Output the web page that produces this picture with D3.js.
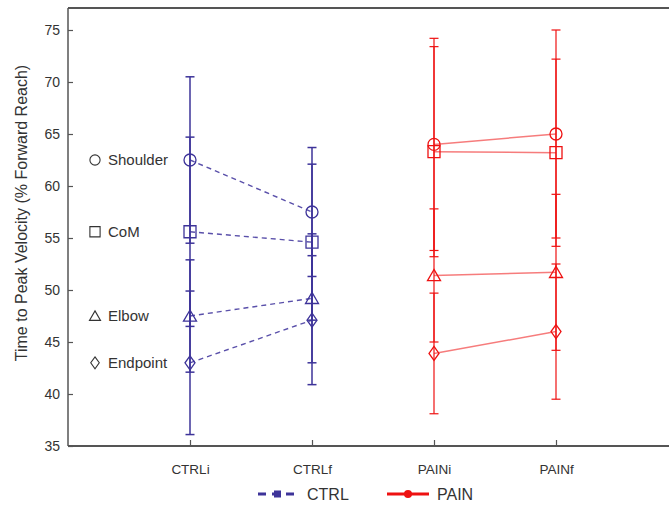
<!DOCTYPE html>
<html>
<head>
<meta charset="utf-8">
<script src="https://cdn.jsdelivr.net/npm/d3@7"></script>
<style>
  html, body { margin: 0; padding: 0; background: #fff; }
  svg { display: block; font-family: "Liberation Sans", Arial, Helvetica, sans-serif; }
</style>
</head>
<body>
<svg id="chart" width="669" height="506"></svg>
<script>
// Time to peak velocity per body segment, control vs. pain groups (mean ± SD)
const groups = ["CTRLi", "CTRLf", "PAINi", "PAINf"];
const segments = ["Shoulder", "CoM", "Elbow", "Endpoint"];

const ctrlInitialMean = [62.5, 55.6, 47.5, 43.0];
const ctrlInitialSD   = [8.0, 9.1, 5.4, 6.9];
const ctrlFinalMean   = [57.5, 54.6, 49.2, 47.1];
const ctrlFinalSD     = [6.2, 7.5, 6.2, 6.2];

const painInitialMean = [64.0, 63.3, 51.4, 43.9];
const painInitialSD   = [10.2, 10.1, 6.4, 5.8];
const painFinalMean   = [65.0, 63.2, 51.7, 46.0];
const painFinalSD     = [10.0, 9.0, 7.5, 6.5];

const yTicks = [35, 40, 45, 50, 55, 60, 65, 70, 75];

const CTRL_COLOR = "#3d3399";
const PAIN_COLOR = "#ee1111";
const AXIS_COLOR = "#555";
const TEXT_COLOR = "#333";

const svg = d3.select("#chart");

const frameLeft = 68, frameTop = 8, frameBottom = 446, frameRight = 678;

// group index 1..4 across a 0..5 domain
const x = d3.scaleLinear().domain([0, groups.length + 1]).range([frameLeft, frameRight]);
const y = d3.scaleLinear().domain([35, 75]).range([frameBottom, 30]);

// Open marker shapes for each segment
const markerPath = {
  Shoulder: () => d3.symbol(d3.symbolCircle, Math.PI * 36)(),
  CoM: () => "M-6,-6H6V6H-6Z",
  Elbow: () => "M0,-6L6.5,5.2H-6.5Z",
  Endpoint: () => "M0,-7L5,0L0,7L-5,0Z"
};

// Frame: left, top and bottom rules
svg.append("line").attr("x1", frameLeft).attr("x2", 669).attr("y1", frameTop).attr("y2", frameTop)
  .attr("stroke", AXIS_COLOR).attr("stroke-width", 2);
svg.append("line").attr("x1", frameLeft).attr("x2", 669).attr("y1", frameBottom).attr("y2", frameBottom)
  .attr("stroke", AXIS_COLOR).attr("stroke-width", 2);
svg.append("line").attr("x1", frameLeft).attr("x2", frameLeft).attr("y1", frameTop).attr("y2", frameBottom)
  .attr("stroke", AXIS_COLOR).attr("stroke-width", 1.5);

// Y axis ticks (inward) and labels
const yAxis = d3.axisLeft(y).tickValues(yTicks).tickSizeInner(-5).tickSizeOuter(0).tickPadding(8);
const yg = svg.append("g").attr("transform", `translate(${frameLeft},0)`).call(yAxis);
yg.select(".domain").remove();
yg.selectAll(".tick line").attr("stroke", AXIS_COLOR).attr("stroke-width", 1.2);
yg.selectAll(".tick text").attr("fill", TEXT_COLOR).attr("font-size", 14)
  .attr("font-family", "Liberation Sans, Arial, sans-serif");

// X axis ticks (inward) and labels
const xAxis = d3.axisBottom(x).tickValues(groups.map((g, i) => i + 1))
  .tickFormat((d) => groups[d - 1]).tickSizeInner(-6).tickSizeOuter(0).tickPadding(18);
const xg = svg.append("g").attr("transform", `translate(0,${frameBottom})`).call(xAxis);
xg.select(".domain").remove();
xg.selectAll(".tick line").attr("stroke", AXIS_COLOR).attr("stroke-width", 1.2);
xg.selectAll(".tick text").attr("fill", TEXT_COLOR).attr("font-size", 13.5)
  .attr("font-family", "Liberation Sans, Arial, sans-serif");

// Y axis title
svg.append("text")
  .attr("transform", `translate(27,${213}) rotate(-90)`)
  .attr("text-anchor", "middle")
  .attr("fill", TEXT_COLOR)
  .attr("font-size", 16)
  .text("Time to Peak Velocity (% Forward Reach)");

// Draw one group's error bars
function drawGroup(gi, means, sds, color, width) {
  const cx = x(gi + 1);
  const g = svg.append("g");
  segments.forEach((s, k) => {
    const lo = means[k] - sds[k], hi = means[k] + sds[k];
    g.append("line").attr("x1", cx).attr("x2", cx).attr("y1", y(lo)).attr("y2", y(hi))
      .attr("stroke", color).attr("stroke-width", width);
    [lo, hi].forEach((v) => {
      g.append("line").attr("x1", cx - 4.5).attr("x2", cx + 4.5).attr("y1", y(v)).attr("y2", y(v))
        .attr("stroke", color).attr("stroke-width", width);
    });
  });
  return g;
}

function drawMarkers(gi, means, color) {
  const cx = x(gi + 1);
  segments.forEach((s, k) => {
    svg.append("path").attr("d", markerPath[s]())
      .attr("transform", `translate(${cx},${y(means[k])})`)
      .attr("fill", "none").attr("stroke", color).attr("stroke-width", 1.3);
  });
}

// Connecting lines between initial and final sessions
function drawLinks(gA, gB, meansA, meansB, color, dashed, opacity) {
  segments.forEach((s, k) => {
    svg.append("line")
      .attr("x1", x(gA + 1)).attr("y1", y(meansA[k]))
      .attr("x2", x(gB + 1)).attr("y2", y(meansB[k]))
      .attr("stroke", color).attr("stroke-width", dashed ? 1.4 : 1.5)
      .attr("stroke-opacity", opacity)
      .attr("stroke-dasharray", dashed ? "5,4" : null);
  });
}

drawLinks(0, 1, ctrlInitialMean, ctrlFinalMean, "#5a50aa", true, 1);
drawLinks(2, 3, painInitialMean, painFinalMean, PAIN_COLOR, false, 0.55);

drawGroup(0, ctrlInitialMean, ctrlInitialSD, CTRL_COLOR, 1.5);
drawGroup(1, ctrlFinalMean, ctrlFinalSD, CTRL_COLOR, 1.5);
drawGroup(2, painInitialMean, painInitialSD, PAIN_COLOR, 1.2);
drawGroup(3, painFinalMean, painFinalSD, PAIN_COLOR, 1.2);

drawMarkers(0, ctrlInitialMean, CTRL_COLOR);
drawMarkers(1, ctrlFinalMean, CTRL_COLOR);
drawMarkers(2, painInitialMean, PAIN_COLOR);
drawMarkers(3, painFinalMean, PAIN_COLOR);

// Segment key, placed beside the CTRLi values
segments.forEach((s, k) => {
  const yy = y(ctrlInitialMean[k]);
  svg.append("path").attr("d", markerPath[s]())
    .attr("transform", `translate(95,${yy}) scale(0.85)`)
    .attr("fill", "none").attr("stroke", "#333").attr("stroke-width", 1.3);
  svg.append("text").attr("x", 108).attr("y", yy).attr("dy", "0.35em")
    .attr("fill", TEXT_COLOR).attr("font-size", 15).text(s);
});

// Group legend
const lg = svg.append("g").attr("transform", "translate(0,494)");
lg.append("line").attr("x1", 258).attr("x2", 298).attr("y1", 0).attr("y2", 0)
  .attr("stroke", CTRL_COLOR).attr("stroke-width", 3).attr("stroke-dasharray", "8,6");
lg.append("rect").attr("x", 274).attr("y", -3.5).attr("width", 7).attr("height", 7).attr("fill", CTRL_COLOR);
lg.append("text").attr("x", 307).attr("y", 0).attr("dy", "0.35em").attr("fill", TEXT_COLOR)
  .attr("font-size", 16).text("CTRL");
lg.append("line").attr("x1", 387).attr("x2", 429).attr("y1", 0).attr("y2", 0)
  .attr("stroke", PAIN_COLOR).attr("stroke-width", 3);
lg.append("circle").attr("cx", 408).attr("cy", 0).attr("r", 4).attr("fill", PAIN_COLOR);
lg.append("text").attr("x", 437).attr("y", 0).attr("dy", "0.35em").attr("fill", TEXT_COLOR)
  .attr("font-size", 16).text("PAIN");
</script>
</body>
</html>
